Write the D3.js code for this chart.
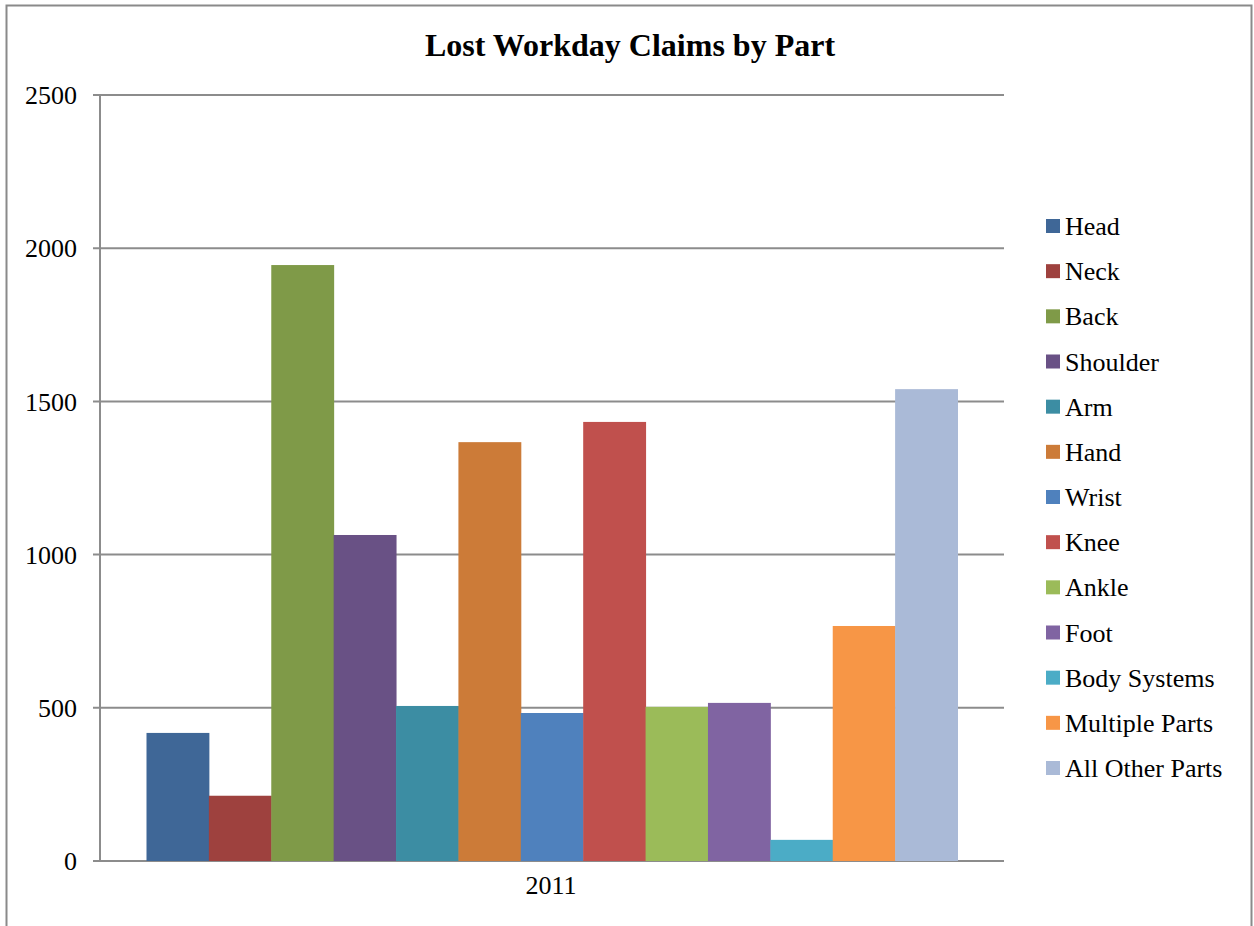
<!DOCTYPE html>
<html><head><meta charset="utf-8">
<script src="https://cdn.jsdelivr.net/npm/d3@7"></script>
<style>body{margin:0;background:#fff}svg{display:block}</style>
</head><body>
<svg id="c" width="1254" height="926"></svg>
<script>
const categories = ["Head","Neck","Back","Shoulder","Arm","Hand","Wrist","Knee","Ankle","Foot","Body Systems","Multiple Parts","All Other Parts"];
const values = [418, 213, 1945, 1064, 506, 1367, 483, 1433, 503, 516, 69, 767, 1540];
const colors = ["#3F6797","#9E413E","#7F9A48","#695185","#3C8DA3","#CC7B38","#4F81BD","#C0504D","#9BBB59","#8064A2","#4BACC6","#F79646","#AABAD7"];
const yTicks = [0,500,1000,1500,2000,2500];
const xLabel = "2011";
const title = "Lost Workday Claims by Part";

const svg = d3.select("#c");
const font = "'Liberation Serif','Times New Roman',serif";
// outer border
svg.append("path").attr("d","M6.5,926 V5.5 H1251.5 V926").attr("fill","none").attr("stroke","#8a8a8a").attr("stroke-width",2);

const L=100, R=1004, T=95, B=861;
const y = d3.scaleLinear().domain([0,2500]).range([B,T]);
const x0 = d3.scaleBand().domain([xLabel]).range([L,R]).paddingInner(0).paddingOuter(0);
const gapFrac = 46.5/904;
const x1 = d3.scaleBand().domain(categories).range([L+gapFrac*(R-L), R-gapFrac*(R-L)]).padding(0);

// gridlines
svg.append("g").selectAll("line").data(yTicks).join("line")
  .attr("x1",L-7).attr("x2",R).attr("y1",d=>y(d)).attr("y2",d=>y(d))
  .attr("stroke","#8c8c8c").attr("stroke-width",2);

// bars
svg.append("g").selectAll("rect").data(categories).join("rect")
  .attr("x",d=>x1(d)).attr("width",x1.bandwidth()+0.5)
  .attr("y",(d,i)=>y(values[i])).attr("height",(d,i)=>B-y(values[i]))
  .attr("fill",(d,i)=>colors[i]);

// y axis line
svg.append("line").attr("x1",L).attr("x2",L).attr("y1",T).attr("y2",B).attr("stroke","#8c8c8c").attr("stroke-width",2);

// y tick labels
svg.append("g").selectAll("text").data(yTicks).join("text")
  .attr("x",77).attr("y",d=>y(d)).attr("dy","0.35em").attr("text-anchor","end")
  .attr("font-family",font).attr("font-size",26).attr("fill","#000").text(d=>d);

// x label
svg.append("text").attr("x",x0(xLabel)+x0.bandwidth()/2-1).attr("y",894)
  .attr("text-anchor","middle").attr("font-family",font).attr("font-size",26).text(xLabel);

// title
svg.append("text").attr("x",630).attr("y",56).attr("text-anchor","middle")
  .attr("font-family",font).attr("font-size",32).attr("font-weight","bold").text(title);

// legend
const ly = d3.scalePoint().domain(categories).range([226,768]);
const lg = svg.append("g").selectAll("g").data(categories).join("g")
  .attr("transform",d=>`translate(1046,${ly(d)})`);
lg.append("rect").attr("x",0).attr("y",-7).attr("width",14).attr("height",14).attr("fill",(d,i)=>colors[i]);
lg.append("text").attr("x",19).attr("y",0).attr("dy","0.35em").attr("font-family",font).attr("font-size",26).text(d=>d);
</script>
</body></html>
